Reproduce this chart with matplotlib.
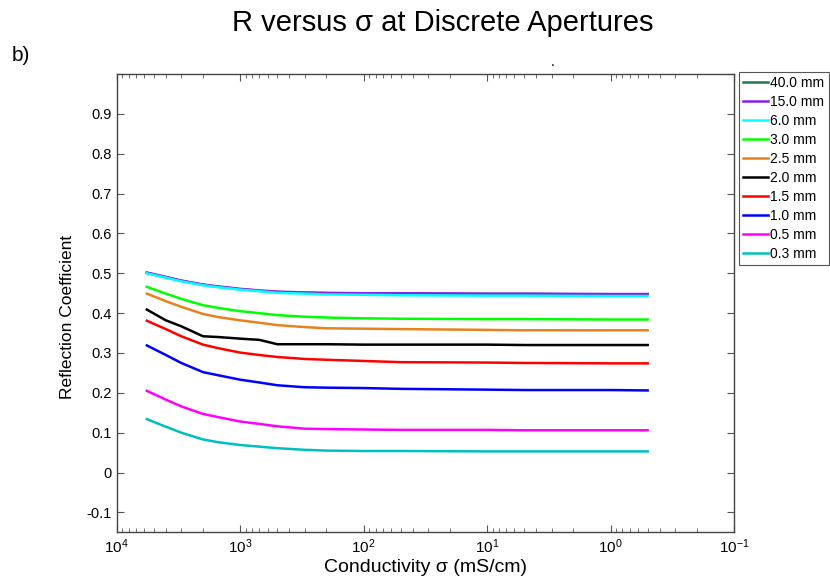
import matplotlib.pyplot as plt
import numpy as np
from matplotlib.ticker import LogLocator, FuncFormatter, MultipleLocator

plt.rcParams['font.family'] = ['Liberation Sans', 'DejaVu Sans']
plt.rcParams['axes.unicode_minus'] = False
plt.rcParams['mathtext.fontset'] = 'custom'
plt.rcParams['mathtext.rm'] = 'Liberation Sans'
plt.rcParams['mathtext.it'] = 'Liberation Sans'

# conductivity (mS/cm)
sigma = [5700, 4000, 3000, 2000, 1500, 1000, 700, 500, 300, 200, 100, 50, 10, 5, 1, 0.5]

labels = ["40.0 mm", "15.0 mm", "6.0 mm", "3.0 mm", "2.5 mm",
          "2.0 mm", "1.5 mm", "1.0 mm", "0.5 mm", "0.3 mm"]
colors = ["#1e7a4a", "#8a1ee6", "#00ffff", "#00ff00", "#e6821e",
          "#000000", "#ff0000", "#0000ff", "#ff00ff", "#00bfbf"]

r_400 = [0.501, 0.490, 0.481, 0.471, 0.466, 0.460, 0.456, 0.453, 0.451, 0.450, 0.449, 0.449, 0.448, 0.448, 0.447, 0.447]
r_150 = [0.502, 0.491, 0.482, 0.472, 0.467, 0.461, 0.457, 0.454, 0.452, 0.451, 0.450, 0.450, 0.449, 0.449, 0.448, 0.448]
r_60 = [0.500, 0.489, 0.480, 0.470, 0.465, 0.459, 0.455, 0.451, 0.449, 0.447, 0.446, 0.445, 0.444, 0.444, 0.443, 0.443]
r_30 = [0.466, 0.449, 0.436, 0.420, 0.413, 0.405, 0.400, 0.395, 0.391, 0.389, 0.387, 0.386, 0.385, 0.385, 0.384, 0.384]
r_25 = [0.449, 0.430, 0.416, 0.398, 0.390, 0.382, 0.376, 0.370, 0.365, 0.362, 0.361, 0.360, 0.358, 0.357, 0.357, 0.357]
r_20 = [0.409, 0.382, 0.367, 0.342, 0.340, 0.336, 0.333, 0.322, 0.322, 0.322, 0.321, 0.321, 0.321, 0.320, 0.320, 0.320]
r_15 = [0.381, 0.360, 0.342, 0.321, 0.312, 0.301, 0.295, 0.290, 0.285, 0.283, 0.280, 0.277, 0.276, 0.275, 0.274, 0.274]
r_10 = [0.319, 0.295, 0.275, 0.252, 0.244, 0.233, 0.226, 0.219, 0.214, 0.213, 0.212, 0.210, 0.208, 0.207, 0.207, 0.206]
r_05 = [0.205, 0.183, 0.166, 0.147, 0.139, 0.128, 0.122, 0.116, 0.110, 0.109, 0.108, 0.107, 0.107, 0.106, 0.106, 0.106]
r_03 = [0.134, 0.115, 0.100, 0.083, 0.076, 0.069, 0.065, 0.061, 0.057, 0.055, 0.054, 0.054, 0.053, 0.053, 0.053, 0.053]

series = [r_400, r_150, r_60, r_30, r_25, r_20, r_15, r_10, r_05, r_03]

fig = plt.figure(figsize=(8.3, 5.79), dpi=100)
ax = fig.add_axes([0.1406, 0.0807, 0.7437, 0.7913])

for vals, c, lab in zip(series, colors, labels):
    ax.plot(sigma, vals, color=c, lw=1.8, label=lab)

ax.set_xscale('log')
ax.set_xlim(1e4, 1e-1)
ax.set_ylim(-0.15, 1.0)
ax.xaxis.set_major_locator(LogLocator(base=10, numticks=10))
ax.xaxis.set_minor_locator(LogLocator(base=10, subs=np.arange(2, 10), numticks=20))
ax.xaxis.set_major_formatter(FuncFormatter(lambda v, p: r'$10^{%d}$' % round(np.log10(v))))
ax.yaxis.set_major_locator(MultipleLocator(0.1))
ax.yaxis.set_major_formatter(FuncFormatter(lambda v, p: '%g' % round(v, 2) if -0.15 < v < 0.95 else ''))

ax.tick_params(which='both', direction='in', top=True, right=True, color='#555555', labelsize=10.5)
ax.tick_params(axis='x', labelsize=11, pad=4)
ax.tick_params(which='major', length=5)
ax.tick_params(which='minor', length=3)
for s in ax.spines.values():
    s.set_color('#444444')
    s.set_linewidth(1.0)

ax.set_xlabel("Conductivity σ (mS/cm)", fontsize=14, labelpad=2)
ax.set_ylabel("Reflection Coefficient", fontsize=12.5)
ax.yaxis.set_label_coords(-0.0676, 0.47)

fig.text(0.534, 0.960, "R versus σ at Discrete Apertures", fontsize=21, ha='center', va='center')
fig.text(0.014, 0.905, "b)", fontsize=15, ha='left', va='center')
fig.text(0.666, 0.893, ".", fontsize=10, ha='center', va='center')

leg = fig.legend(loc='upper left', bbox_to_anchor=(739 / 830, 1 - 72 / 579),
                 fontsize=10, handlelength=1.8, handletextpad=0.15,
                 labelspacing=0.36, borderpad=0.3, borderaxespad=0,
                 fancybox=False, framealpha=1, edgecolor='#555555')
leg.get_frame().set_linewidth(0.8)

fig.savefig("out.png", dpi=100)
